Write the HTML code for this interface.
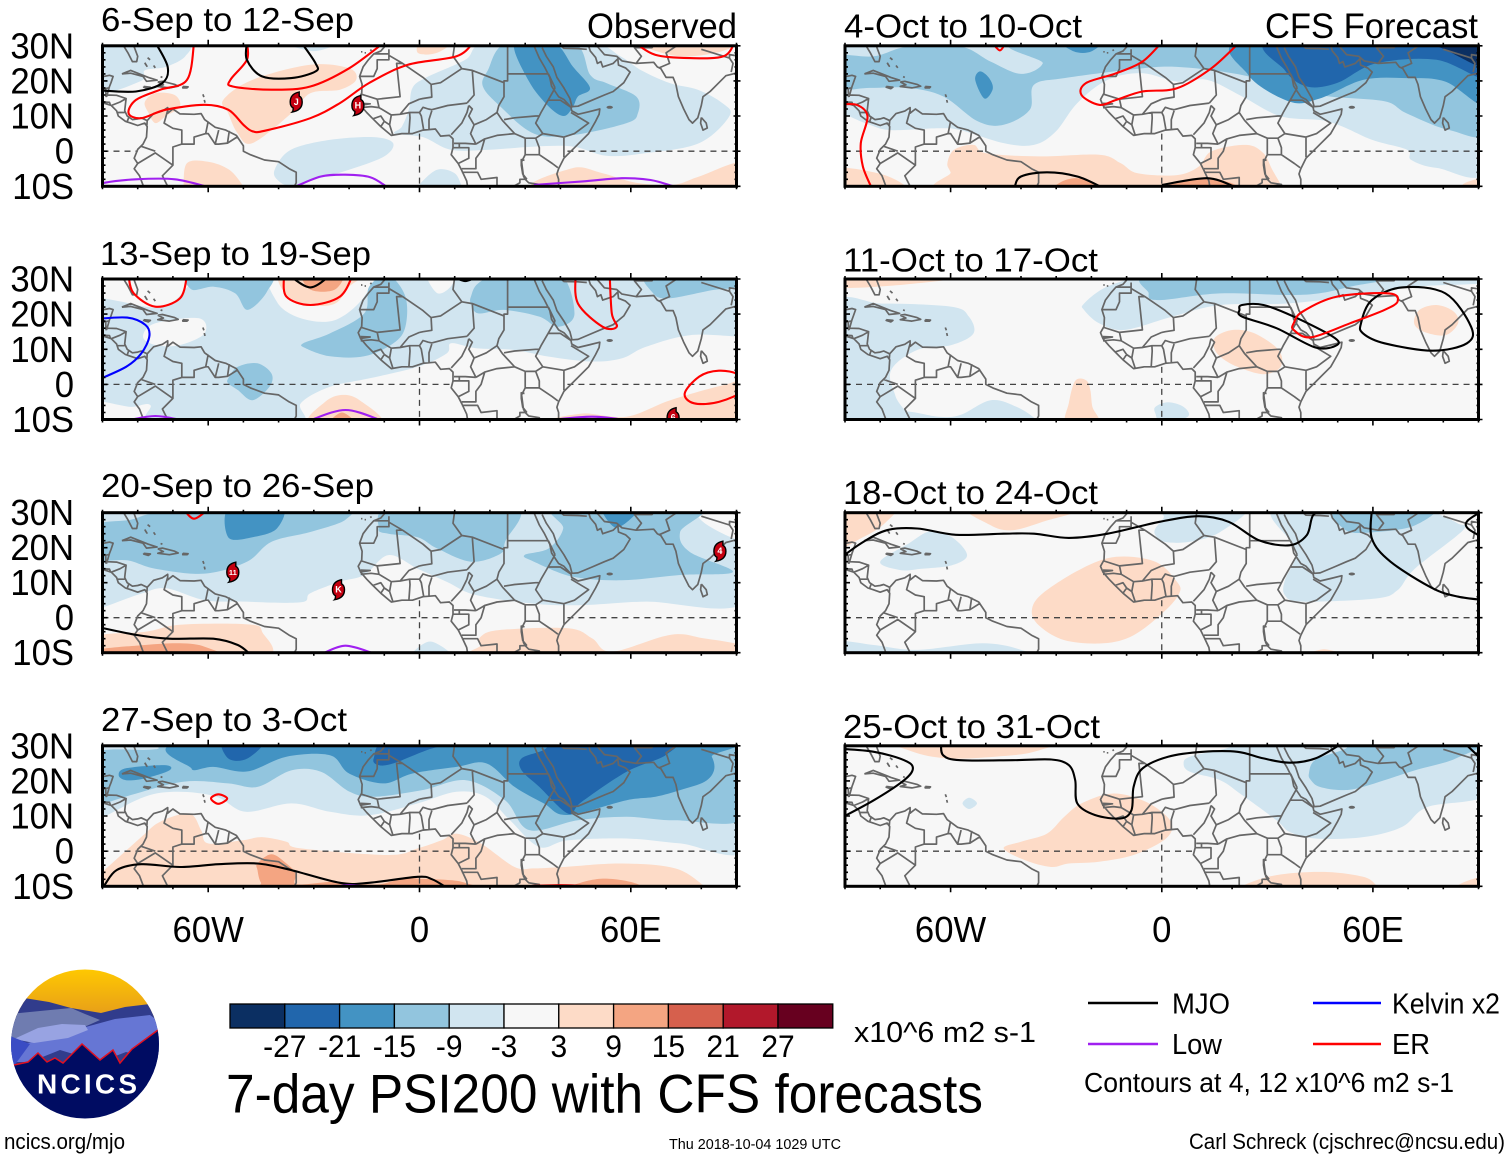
<!DOCTYPE html>
<html lang="en">
<head>
<meta charset="utf-8">
<title>7-day PSI200 with CFS forecasts</title>
<style>
html,body{margin:0;padding:0;background:#fff;}
svg{display:block;}
text{font-family:"Liberation Sans",sans-serif;fill:#000;}
</style>
</head>
<body>
<svg id="chart" xmlns="http://www.w3.org/2000/svg" width="1510" height="1159" viewBox="0 0 1510 1159">
  <rect x="0" y="0" width="1510" height="1159" fill="#fff"/>
  <g id="panels"></g>

  <g id="colorbar"></g>
  <text x="854" y="1042" font-size="28.5" textLength="182" lengthAdjust="spacingAndGlyphs">x10^6 m2 s-1</text>
  <text x="226" y="1112.5" font-size="54.5" textLength="757" lengthAdjust="spacingAndGlyphs">7-day PSI200 with CFS forecasts</text>

  <g>
    <line x1="1088" y1="1003" x2="1158" y2="1003" stroke="#000" stroke-width="2.4"/>
    <text x="1172" y="1013.5" font-size="28.5" textLength="58" lengthAdjust="spacingAndGlyphs">MJO</text>
    <line x1="1313" y1="1003" x2="1381" y2="1003" stroke="#0000ff" stroke-width="2.4"/>
    <text x="1392" y="1013.5" font-size="28.5" textLength="108" lengthAdjust="spacingAndGlyphs">Kelvin x2</text>
    <line x1="1088" y1="1044" x2="1158" y2="1044" stroke="#a020f0" stroke-width="2.4"/>
    <text x="1172" y="1054" font-size="28.5" textLength="50" lengthAdjust="spacingAndGlyphs">Low</text>
    <line x1="1313" y1="1044" x2="1381" y2="1044" stroke="#ff0000" stroke-width="2.4"/>
    <text x="1392" y="1054" font-size="28.5" textLength="38" lengthAdjust="spacingAndGlyphs">ER</text>
    <text x="1084" y="1092" font-size="27.5" textLength="370" lengthAdjust="spacingAndGlyphs">Contours at 4, 12 x10^6 m2 s-1</text>
  </g>

  <g>
    <defs>
      <clipPath id="logo-clip"><ellipse cx="85" cy="1044" rx="74" ry="74.5"/></clipPath>
      <linearGradient id="logo-sky" x1="0" y1="0" x2="0" y2="1"><stop offset="0" stop-color="#ffc900"/><stop offset="1" stop-color="#e59a1c"/></linearGradient>
    </defs>
    <g clip-path="url(#logo-clip)">
      <rect x="10" y="968" width="150" height="52" fill="url(#logo-sky)"/>
      <polygon fill="#313c8c" points="10,1002 24,998 49,1002 71,1008 101,1013 125,1007 150,1004 162,1008 162,1090 10,1090"/>
      <polygon fill="#6f7cb0" points="10,1014 40,1011 71,1008 85,1014 100,1020 82,1028 55,1030 10,1042"/>
      <polygon fill="#6676d4" points="82,1028 115,1019 150,1015 162,1024 162,1060 126,1052 100,1062 60,1050 30,1062 10,1062 10,1045 50,1040"/>
      <polygon fill="#98a3e2" points="14,1039 38,1028 62,1024 85,1025 88,1030 68,1038 34,1043"/>
      <polygon fill="#3a4cc4" points="10,1036 30,1044 14,1066 10,1066"/>
      <polygon fill="#000c62" stroke="#e01020" stroke-width="1.5" points="4,1065 14,1065 28,1062 38,1053 47,1062 55,1058 63,1063 82,1044 100,1060 113,1050 120,1063 132,1049 158,1030 170,1022 170,1125 4,1125"/>
    </g>
    <text x="37" y="1093.5" font-size="28" font-weight="bold" style="fill:#fff" textLength="100" lengthAdjust="spacing">NCICS</text>
  </g>

  <text x="4" y="1149" font-size="22.5" textLength="121" lengthAdjust="spacingAndGlyphs">ncics.org/mjo</text>
  <text x="669" y="1149" font-size="14.5" textLength="172" lengthAdjust="spacingAndGlyphs">Thu 2018-10-04 1029 UTC</text>
  <text x="1189" y="1149" font-size="22.5" textLength="316" lengthAdjust="spacingAndGlyphs">Carl Schreck (cjschrec@ncsu.edu)</text>
</svg>

<script>
/* ---------- colour scale ---------- */
const colorbarBreaks = [-27,-21,-15,-9,-3,3,9,15,21,27];
const colorbarColors = ['#0b2f62','#2166ac','#4393c3','#92c5de','#d1e5f0','#f7f7f7','#fddbc7','#f4a582','#d6604d','#b2182b','#67001f'];
const latTickLabels = ['30N','20N','10N','0','10S'];
const latTickValues = [30,20,10,0,-10];
const lonTickLabels = ['60W','0','60E'];
const lonTickValues = [-60,0,60];
const contourColors = {MJO:'#000000',Low:'#a020f0',Kelvin:'#0000ff',ER:'#ff0000'};

/* ---------- map geometry (lon, lat) ---------- */
const coastlines = [
 [[-90,21.2],[-88,21.6],[-87,21.3],[-87.6,19.5],[-88,18.4],[-88.7,16],[-86,15.9],[-83.3,15],[-83.7,11.5],[-83,10],[-81.5,9],[-80,9.2],[-79,9.5],[-77.3,8.7],[-75.5,10.7],[-73,11.4],[-71.5,12.4],[-71.5,10.8],[-70,12],[-68,10.6],[-64,10.5],[-62,10.7],[-61,9],[-58,6.8],[-55,6],[-52,4.5],[-50,1.5],[-50,0],[-48,-1],[-44,-2.5],[-40,-3],[-37,-5],[-35,-6],[-35,-9],[-36,-11]],
 [[-90,13.8],[-87.5,13],[-86,11.5],[-85.5,10],[-83.5,8.5],[-82,8],[-80,7.3],[-78,8],[-77.3,7],[-77.5,4],[-78.5,2],[-80,0.5],[-81,-2],[-80,-3.5],[-81,-5],[-79.5,-7],[-78,-11]],
 [[-84,30],[-82.8,28],[-81.5,25.5],[-80.3,25.5],[-80,27],[-81.3,30.5]],
 [[-84.5,22],[-82,23],[-77,21],[-74.5,20.2],[-77.5,19.9],[-78.5,21.3],[-82,22.2],[-84.5,22]],
 [[-74.3,19.7],[-73,19.9],[-69.5,19],[-68.5,18.5],[-71,18],[-74.3,18.4],[-72.7,18.9],[-74.3,19.7]],
 [[-78.3,18.4],[-76.4,18.2],[-77,17.8],[-78.3,18.2],[-78.3,18.4]],
 [[-67.2,18.4],[-65.7,18.3],[-66,18],[-67.2,18],[-67.2,18.4]],
 [[-78,25.2],[-77.4,24.2],[-77.8,24.8],[-78,25.2]],
 [[-75.5,24.4],[-75,23.7]],[[-76.5,26],[-77.2,26.6]],[[-73.5,21.2],[-73,21]],
 [[-61.5,16.2],[-61.2,15.4]],
 [[-61.1,14.6],[-60.9,13.8]],
 [[-16.6,28.3],[-16.2,28.3]],[[-15.6,28],[-15.2,28]],[[-14,28.6],[-13.6,28.9]],
 [[-9.8,30.5],[-9.7,30],[-11,28.5],[-13,27.7],[-14.5,26],[-16,24],[-17,21.3],[-16.3,19],[-16.4,16.5],[-17.4,14.7],[-16.7,13],[-15,11],[-13.5,9.5],[-11,7],[-8,4.5],[-5,5],[-2,5],[1,6],[4.5,6.3],[6,4.3],[8.5,4.5],[9.5,3.5],[9.5,1],[9,-1],[11,-3.5],[12,-5.5],[13.4,-8.5],[13.8,-11]],
 [[39.5,-11],[39.5,-8],[39,-6.5],[39.5,-5],[41,-2],[44,1],[48,5],[50,8.5],[51,10.5],[51.2,12],[48,11.2],[45,10.5],[43.2,11.5],[43,12.5],[41,14.7],[39.5,15.5],[37.5,18.5],[37,21],[35.5,24],[34,26.5],[32.6,29.8],[32.5,31]],
 [[34.8,29.5],[36,27],[38,24],[39,21],[41,18],[42.7,15],[43.3,12.7],[45,12.8],[49,14.5],[52.5,16],[55,17],[58,19.5],[59.8,22.5],[58.5,23.7],[56.5,24.5],[56.3,26.3],[55,25],[52,24],[51.5,25.5],[50.5,25],[50,26.7],[48.5,28.5],[48,30],[50.5,29.8],[52.5,27.5],[56,27],[57.5,25.7],[61.5,25],[66.5,25.3],[67.5,24],[68.5,23.5],[70,21],[72,21],[72.8,19],[73.5,15.5],[75,12],[76.5,9],[77.5,8],[79,9.5],[80,13],[80.5,15.5],[82.5,17],[85,19.5],[87,21.5],[89,22],[91,22.6]],
 [[80,9.6],[81.4,8],[81.7,6.6],[80.5,6],[79.8,8],[80,9.6]]
];
const borders = [
 [[-90,17.8],[-88.9,17.9],[-88.3,18]],[[-89.1,17.9],[-89,15.6],[-88.6,15.7]],[[-89.9,14],[-88,13.9],[-87.7,13]],[[-85.7,11],[-84,11],[-83.7,11]],[[-87.5,13],[-85,14],[-83.3,15]],[[-83,8.4],[-82.6,9.5]],[[-77.3,8.7],[-77.4,7.3]],
 [[-71.5,11.6],[-72.5,8],[-70,6.5],[-67.5,6],[-67.5,2],[-70,1.2],[-70,-4]],
 [[-67.5,2],[-64,2],[-64,4],[-60.7,5],[-60,8.5]],[[-60.7,5],[-60,5],[-58,2],[-57,2],[-54.5,2.3],[-51.5,4.2]],[[-57,6],[-58,2]],[[-54,5.8],[-54.5,2.3]],
 [[-80,-3.5],[-75,-0.5],[-70,-4],[-73,-7],[-71,-11]],[[-79,1.4],[-75,0]],
 [[-13,27.7],[-8.7,27.7],[-8.7,26],[-12,26],[-12,23.5],[-13,21.3],[-17,21.3]],
 [[-8.7,27.3],[-4.8,25],[-6.5,25],[-5.5,15.5],[-12,14.8],[-16.4,16.2]],
 [[-8.7,29],[-8.7,27.7]],
 [[-4.8,25],[1,21],[3.3,19],[6,19.5],[12,23.5],[15,23],[24,19.5],[24,20],[25,20],[25,31]],[[25,22],[36.6,22]],
 [[10,30.5],[9.5,27],[12,23.5]],
 [[15,23],[15.5,16],[13.5,13.7]],[[13.5,13.7],[8,13],[3.5,11.8],[2.5,12]],[[3.5,11.5],[2.7,9],[2.7,6.3]],[[3.3,19],[3.5,15.4],[1,15],[0,14.8]],
 [[-3,5],[-2.7,9.5],[-2.8,11],[0,11],[0.5,10],[1.2,6]],[[0,14.8],[-3,13.5],[-5.5,10.5],[-8,10.3],[-8.5,7.5],[-7.5,4.4]],[[-2.8,11],[-5.5,10.5]],
 [[0,11],[1,12.5],[2.5,12]],[[-12,14.8],[-11.5,12.4],[-8,10.3]],[[-11,7],[-10,8.5],[-8.5,7.5]],[[-13.3,9.2],[-11,10],[-10,8.5]],[[-16.7,12.4],[-13.7,12.7],[-11.5,12.4]],[[-16.7,13.6],[-14,13.5],[-16.7,13.1]],
 [[24,19.5],[24,15.5],[22.5,13],[22,11],[23.5,8.8]],[[22,11],[19,9],[15.5,7.5]],[[15.5,7.5],[14,10],[15,12],[14,13]],[[14,13],[13.5,11],[12,8],[9,4.7]],
 [[15.5,7.5],[14.5,5],[16,2]],[[9.8,2.2],[13,2.2],[16,2]],[[27,5],[22,4.5],[18.5,3.5],[17.5,0],[16,-2],[16,-5],[12,-5]],[[16,2],[18.5,3.5]],[[9.7,1],[11.3,1],[11.3,2.2]],[[11,-3.5],[14,-2],[14,1],[11.3,1]],
 [[24,9],[27,9.5],[33,10],[34,10]],[[23.5,8.8],[27,5],[30,3.7],[33,3.7],[35,5]],[[36.5,14.5],[34.5,11],[33,8],[35,5]],[[36.6,22],[38.5,18]],[[36.5,14.5],[38.5,18]],[[36.5,14.5],[40,14.5],[43,12.5]],
 [[35,5],[41,4],[41,-1.7]],[[41,4],[44,5],[48,8],[43,11]],[[33,3.7],[34,1],[34,-1],[37.7,-3.5],[39.3,-4.7]],[[30,3.7],[30,-1],[34,-1]],[[30,-1],[29,-3],[29.5,-7],[30,-8],[31,-9],[34,-9.5],[34.5,-11]],[[29.8,-2.6],[28.9,-2.4],[28.9,-4],[29.3,-6.5],[30.5,-8]],
 [[40,-10.6],[37,-11],[34.5,-11]],[[12,-6],[16.5,-6],[17.5,-8],[22,-7.5],[22,-11]],[[22,-11],[24,-11],[25,-11],[28.5,-9],[28.5,-8],[30.5,-8]],
 [[32.8,-9.5],[33.3,-11]],
 [[39,31],[41,29.3],[45,29.2],[47.5,29]],[[46,31],[48,30]],
 [[61.5,25],[63,27],[61,29.5],[61,31]],[[68,23.7],[71,25],[70,28],[73,30],[74,31]],[[61,29.5],[66,29.5],[67,31]],
 [[80,29],[88,26.5],[88,27.5],[91,27]],[[88,26.5],[89,25],[88.5,22.5]],[[88,30],[83,30],[80,31]]
];
const socotra = [[54,12.5]];

/* ---------- panel 6-Sep to 12-Sep ---------- */
const shading6Sep = [
 [-6,[[-92,31],[-67,31],[-66.5,27],[-72,24],[-78,23],[-79,20],[-92,17]]],
 [-6,[[-40,32],[-30,28.5],[-22,32]]],
 [-6,[[19.4,31],[13,26],[2,21],[-2,18],[-3,12],[-5,7],[-7,5],[1,4],[9,0.4],[20,0.4],[32.5,1.3],[43.6,1.3],[53,-1.3],[64,-0.6],[79.4,2.3],[88,10],[86,13.7],[79,17.5],[71,19.4],[63,23],[57,27],[48,31]]],
 [-6,[[-41,-5],[-36.5,0.4],[-25.5,3.2],[-13,4],[-7.5,2.3],[-10,-1.5],[-20,-5.3],[-29.5,-8],[-36.5,-10],[-40.5,-8]]],
 [-6,[[-1,-12],[0,-9.5],[5,-5.3],[10,-6.3],[12,-10],[13,-12]]],
 [-12,[[25,31],[19.4,23],[18,18.4],[23,12.7],[32.5,5],[43.6,4.6],[58.8,8],[62,10.8],[61.5,15.6],[53,19.4],[48.5,21.7],[43.6,31]]],
 [-18,[[27,31],[31,20],[36.7,12.7],[41,10],[43.6,12.7],[45,15.6],[48.4,18],[43.6,24],[38,31]]],
 [6,[[-78,14],[-75,16.5],[-69.5,16],[-68,12.7],[-72,10],[-75,8],[-77,11]]],
 [6,[[-55.7,14.6],[-47.4,20.3],[-31,24.6],[-20,23.6],[-18,20.3],[-22.6,17.5],[-31,16.5],[-36.4,10.8],[-47.4,2.3],[-51.6,5],[-54.3,10.8]]],
 [6,[[-0.5,28],[1,32],[10,32],[5,28]]],
 [6,[[-67,-12],[-67,-10],[-66,-3.4],[-60,-3],[-54,-5.3],[-50,-10],[-49,-12]]],
 [6,[[34,-11],[43.6,-4.8],[52,-6.3],[61.5,-9],[72,-9.6],[79.4,-7.2],[92,-3.2],[93,-12]]],
 [6,[[62,32],[63,30],[74,27],[86,28.5],[90,32]]]
];
const contours6Sep = [
 ['ER',[[-64,31],[-66,20.3],[-73.6,17.5],[-80.5,14.6],[-82.6,10.8],[-79,9.4],[-72,11.8],[-61,13.2],[-54.3,11.8],[-50,7.5],[-47.5,5.7],[-44,5.8],[-31,9.4],[-22.6,13.7],[-14.3,19.4],[-3.3,24.6],[10.5,27],[15.3,31]]],
 ['ER',[[-49,31],[-49,26],[-53.7,20.3],[-53,18.4],[-42,17.5],[-31,18.4],[-20,23.6],[-10,31]]],
 ['ER',[[61,31],[67,27.4],[76.7,26.5],[86.3,27],[89.5,31]]],
 ['MJO',[[-75,31],[-71.5,24],[-73,19.4],[-80.5,17],[-91,17.3]]],
 ['MJO',[[-33.6,31],[-29.5,25],[-29.5,22.7],[-36.4,20.8],[-44.7,21.3],[-49,26],[-49,31]]],
 ['Low',[[-92,-10.2],[-89.5,-9],[-80.5,-8],[-69.5,-8],[-60,-10.2]]],
 ['Low',[[-35,-10],[-28,-7.2],[-21,-6.7],[-14,-7.4],[-9.5,-10]]],
 ['Low',[[32.5,-9.6],[46.3,-8.6],[57.4,-7.7],[65.6,-8.2],[72,-10]]]
];
const storms6Sep = [[-35,14,'J'],[-17.5,13,'H']];

/* ---------- panel 13-Sep to 19-Sep ---------- */
const shading13Sep = [
 [-6,[[-93,32],[93,32],[93,13.6],[90.5,13.6],[76.7,14],[64.3,10.7],[57.4,7.4],[49,6.5],[36.7,7.9],[27,9.8],[16,10.3],[9,11.7],[7.7,8.8],[-0.5,5],[-14.3,1.7],[-25.4,-0.7],[-33.7,-5.4],[-35.3,-12],[-75,-12],[-76.4,-5.9],[-82,-6.4],[-89.5,-5],[-93,-4.5]]],
 [0,[[-93,32],[-93,26],[-84.4,23.5],[-73.6,21.9],[-67.4,26],[-66,32]]],
 [0,[[-41,32],[-40.5,23.5],[-33.7,18.8],[-24,18.3],[-15.7,25],[-15,32]]],
 [0,[[2,32],[5,26],[9,28],[9.5,32]]],
 [0,[[-78.5,13.6],[-75,17.4],[-62.6,18.8],[-61,14.5],[-68,11.2],[-75,11.2]]],
 [-12,[[-64.7,27],[-65,32],[-43,32],[-43.3,26.4],[-48.8,21.2],[-52.3,25.9],[-58.4,27.8]]],
 [-12,[[-33,11.7],[-25.4,14.5],[-15.7,20.2],[-14.3,27.8],[-8.8,31],[-4,25],[-4,16.4],[-7.4,11.7],[-15.7,8],[-25.4,8],[-32.3,10.3]]],
 [-12,[[14.6,25],[16.7,28.8],[24,32],[39.4,32],[44,20.2],[39.4,16.4],[34,19.3],[24,21.2],[16.7,20.2],[14.6,23]]],
 [-12,[[-54.3,1.7],[-51.6,5],[-46,6],[-42,3],[-42.6,-0.7],[-47.4,-4.5],[-51.6,-1.6],[-54.3,0.3]]],
 [-12,[[65.4,32],[66.3,26],[71,24.5],[83.6,26.9],[93,28],[93,32]]],
 [6,[[-38.5,32],[-37.8,25.5],[-31,22.6],[-24,23],[-20,27.8],[-16.4,32]]],
 [12,[[-33,32],[-31,27],[-24,27],[-22,32]]],
 [6,[[-31,-11],[-26.8,-5],[-22,-3],[-17,-4.5],[-11,-11]]],
 [12,[[-25.4,-11],[-22,-8],[-18.5,-11]]],
 [6,[[39.4,-11],[46.3,-8.3],[58.8,-9.2],[71.2,-4.5],[86.3,-0.2],[93,0.5],[93,-12]]]
];
const contours13Sep = [
 ['ER',[[-82.6,31],[-81.2,26],[-75,22.1],[-68,24.5],[-66,31]]],
 ['ER',[[-38.5,31],[-37.8,25],[-31,22.6],[-22.6,25],[-19,31]]],
 ['ER',[[44.3,31],[45,23],[52,16.4],[56,16.4],[54.6,20.2],[54,31]]],
 ['ER',[[75.3,-2.6],[79.4,2.2],[85,3.9],[90.5,2.7],[92,-1.6],[85,-5],[78,-5.4],[75.3,-2.6]]],
 ['MJO',[[-37,31],[-31,27.6],[-25.4,31]]],
 ['MJO',[[10.5,30.2],[13,29.4],[15.5,30.2]]],
 ['Kelvin',[[-92,18.6],[-83,19],[-77.8,16.9],[-76.7,13.6],[-79,8.8],[-83.3,5],[-92,1]]],
 ['Low',[[-82.6,-10.2],[-75,-9],[-67.4,-10.2]]],
 ['Low',[[-31,-10.2],[-21,-7.3],[-11,-10.2]]],
 ['Low',[[36.7,-10.2],[49,-9.2],[58.8,-10.2]]]
];
const storms13Sep = [[72,-9.5,'6']];

/* ---------- panel 20-Sep to 26-Sep ---------- */
const shading20Sep = [
 [-6,[[-93,32],[93,32],[93,4.6],[64.3,4.6],[46.3,3.6],[32.5,4],[16,6.5],[7.7,10.3],[-0.5,14],[-8.8,17.9],[-15.7,12.2],[-22.6,10.3],[-31,7],[-33.7,4.4],[-50,4.6],[-61,5],[-72,8.4],[-79,6.9],[-89.5,3.1],[-93,2.5]]],
 [0,[[79.4,32],[81,27],[93,22],[93,32]]],
 [0,[[-74,32],[-64,28.5],[-58,32]]],
 [-12,[[-93,26],[-82,28],[-75,29.8],[-58.5,29.8],[-22.6,31.5],[-21,28],[-31,24.5],[-42,21.7],[-49,16],[-61,12.6],[-75,14],[-83,16.4],[-93,17]]],
 [-12,[[-11.6,25.5],[-7.4,32],[27,32],[24.3,21.7],[23,18.3],[14.6,16],[5,19.8],[-0.5,23],[-8.8,24]]],
 [-12,[[29.8,17.9],[36.7,19.8],[40.8,25.5],[39.4,32],[79.4,32],[74,24.5],[76.7,18.8],[89,13.1],[74,12.2],[57.4,10.7],[43.6,11.7],[32.5,16]]],
 [-18,[[-54.3,23],[-53.7,32],[-39.2,32],[-40.5,25.5],[-47.4,23]]],
 [-18,[[51.9,32],[55.3,25.9],[60,28.3],[62,32]]],
 [6,[[-93,-5.5],[-77.8,-4],[-68,-2],[-48.8,-1.9],[-44.7,-4],[-45.4,-12],[-93,-12]]],
 [12,[[-93,-9.4],[-78,-7.8],[-68,-7.3],[-61,-8.3],[-57.8,-11.5],[-93,-12]]],
 [6,[[17.4,-5.4],[22.8,-3.5],[42.2,-3],[49,-5.9],[54.6,-9.7],[71.2,-4.9],[80.8,-5.9],[93,-8.3],[93,-12],[19,-12],[17.4,-7.8]]],
 [-6,[[-2,-11],[3,-6.8],[9,-11]]]
];
const contours20Sep = [
 ['ER',[[-67,31],[-64,28.3],[-60,31]]],
 ['MJO',[[-92,-2.5],[-80.5,-4.9],[-71,-6],[-58.5,-6],[-51.6,-7.8],[-48,-10.5]]],
 ['MJO',[[85,31],[90,29.7],[92,29]]],
 ['Low',[[-27.4,-10.2],[-21,-8],[-13,-10.2]]]
];
const storms20Sep = [[-53,13,'11'],[-23,8,'K'],[85.3,19,'4']];

/* ---------- panel 27-Sep to 3-Oct ---------- */
const shading27Sep = [
 [-6,[[-93,32],[93,32],[93,0.8],[74,2.2],[58.8,3.6],[42.2,3.1],[34,1.2],[25.7,8.8],[18.8,15.5],[10.5,16.9],[-0.5,13.6],[-14.3,10.2],[-25.4,11.2],[-36.4,13.6],[-49.3,11.2],[-57.6,15.5],[-68.6,16.9],[-78,15.5],[-89.5,9.8],[-93,8]]],
 [-12,[[-93,27.5],[-75,29],[-61,32],[93,32],[93,9.8],[72.6,8.8],[58.8,9.8],[45,8.8],[31.2,6],[24.3,14.5],[13.2,20.2],[0.8,17.4],[-13,15.5],[-20,17],[-28,22.6],[-36.4,23],[-46,18.3],[-54.3,19.3],[-66.8,19.8],[-80.5,16.4],[-89.5,13.6],[-93,13]]],
 [-18,[[-64.7,23.5],[-58.5,24],[-48.8,22.7],[-37.8,26.9],[-25.4,27.3],[-20,22.1],[-10.2,19.3],[-2,22.1],[10.5,24],[19,25],[27,18.3],[35.3,13.6],[42,10.3],[58.8,14.5],[67,15.5],[74,17.4],[81,19.8],[83.6,23],[83,26.9],[79.4,32],[-60,32]]],
 [-18,[[-85.4,21.6],[-83.3,23.6],[-72.3,24.5],[-71,23],[-78,20.7],[-83.3,20.2]]],
 [-24,[[-55.7,32],[-54.3,26.4],[-48.8,26.4],[-44,32]]],
 [-24,[[-13,26.4],[-8.8,32],[12,32],[2.2,28.8],[-7.4,25],[-11.6,24.5]]],
 [-24,[[29,26.4],[35.3,28.8],[41,32],[71.2,32],[70,27.4],[58.8,22.6],[46,14],[42.2,10.7],[34,18.3],[29,23]]],
 [6,[[-93,-8],[-89.5,-5.4],[-79,4],[-73.6,8.4],[-65.3,10.7],[-62,6],[-60,2.2],[-50.2,3.1],[-44.7,4],[-37.8,2.7],[-33.7,0.8],[-8.8,-1.1],[-0.5,0.8],[6.3,3.1],[10.5,5],[17.4,2.2],[27,-4.5],[32.5,-4.9],[40.8,-4.5],[57.4,-3.5],[72.6,-4.9],[80.8,-9.9],[83,-12],[-93,-12]]],
 [12,[[-46,-5.4],[-46,-3.5],[-42,-0.9],[-37.8,-3.5],[-35,-6.4],[-34.8,-9.4],[-24,-8.7],[-12,-9.5],[-4.7,-7.6],[-0.5,-7.8],[11.9,-8.7],[14,-12],[-42,-12],[-45,-9]]],
 [12,[[41,-12],[43.6,-9.7],[52,-7.8],[61.5,-9.2],[63,-12]]]
];
const contours27Sep = [
 ['ER',[[-59.2,15],[-57.1,16.2],[-54.6,15],[-57.1,13.5],[-59.2,15]]],
 ['MJO',[[-91,-11],[-89.5,-9.7],[-86,-5.4],[-79,-3.7],[-68,-4.5],[-57,-3.7],[-46,-3.5],[-36.4,-5.4],[-22.6,-9],[-14.3,-9],[-0.5,-7.3],[3.6,-8],[7.4,-10.2]]],
 ['Low',[[-22.5,-9.9],[-20,-9.7],[-17,-9.9]]],
 ['ER',[[32,-9.9],[40,-9.7],[46,-9.9]]]
];
const storms27Sep = [];

/* ---------- panel 4-Oct to 10-Oct ---------- */
const shading4Oct = [
 [-6,[[-93,32],[93,32],[93,-4.8],[78.3,-4.8],[70.9,-2.5],[69.7,0.4],[59.8,3.2],[47.5,8.4],[33.9,9.9],[22.8,15.6],[12.9,20.3],[4.3,19.8],[-5.5,22.2],[-15.4,20.3],[-24,13.7],[-30.1,5.6],[-36.3,1.8],[-44.9,2.3],[-57.2,6],[-63.4,6.5],[-76.9,6],[-83,7.5],[-89.8,10.4],[-93,12]]],
 [-12,[[-93,26.8],[-81.8,27],[-72,29.8],[-57.2,29.8],[-48.6,25.5],[-40,22],[-33.8,25],[-35,32],[93,32],[93,6],[81.8,6],[69.5,10.8],[63.3,14.2],[47.4,15.6],[35,18],[22.8,21.7],[4.3,24],[-9.2,23.2],[-27.7,20.8],[-36.3,18.9],[-37.5,11.8],[-44.9,7.5],[-52.3,8.5],[-62.1,15.6],[-72,18],[-83,18],[-93,18]]],
 [-18,[[-29,32],[-25,28.4],[-20,28.4],[-17,32]]],
 [-18,[[-51.7,22.7],[-53,20.3],[-50.4,15],[-48,17.8],[-49.2,21]]],
 [-18,[[24.6,32],[24.6,21.7],[36.3,14.1],[44.9,15],[57.2,20.3],[69.5,20.8],[80.6,19.8],[93,13],[93,32]]],
 [-24,[[32.6,32],[35,23],[41.2,18.4],[49.8,19.4],[60.9,25],[78.1,26],[93,20.5],[93,32]]],
 [-30,[[74.4,32],[80.6,28.9],[93,23.5],[93,32]]],
 [6,[[-57.5,-12],[-60,-6],[-60.9,-3.4],[-59,0.4],[-53.5,1.8],[-49.9,-0.6],[-35,-1.5],[-17.8,-1],[-11.7,-3.4],[-6.8,-6.3],[4.3,-6.8],[10.5,-4.4],[14.2,0],[24,1.8],[28.9,-0.6],[31.4,-5.3],[33.8,-9.6],[34,-12]]],
 [6,[[-93,-5],[-80.6,-6.3],[-73.2,-9.6],[-73,-12],[-93,-12]]],
 [6,[[85.5,-9.6],[93,-7.5],[93,-12]]],
 [12,[[-31,-12],[-29,-9],[-24,-7.7],[-17.8,-9.6],[-16,-12]]],
 [12,[[0,-12],[0.6,-9.6],[11.7,-7.7],[20.3,-9.3],[21,-12]]]
];
const contours4Oct = [
 ['ER',[[0,31],[-5.5,25.5],[-12.9,22.2],[-21.5,19.4],[-22.8,16],[-17.8,13.2],[-12.9,14.6],[-5.5,17],[4.3,17.9],[14.1,23.6],[22.1,31]]],
 ['ER',[[-48.2,31],[-46,28.7],[-44.3,31]]],
 ['ER',[[-92,13.2],[-86.7,13.2],[-83.6,9.9],[-85.5,2.3],[-84.9,-4.4],[-82.4,-10.5]]],
 ['MJO',[[-41.8,-10.2],[-40,-7.2],[-32.6,-6],[-24,-7.2],[-17.2,-10.2]]],
 ['MJO',[[0,-9.6],[12.9,-7.7],[20.9,-10.2]]]
];
const storms4Oct = [];

/* ---------- panel 11-Oct to 17-Oct ---------- */
const shading11Oct = [
 [6,[[-93,32],[-93,27.8],[-78,28],[-54.6,30.5],[-50,32]]],
 [-6,[[-93,22],[-79.4,23],[-59.7,22.1],[-54.8,19.3],[-53.5,14.5],[-59.7,11.2],[-69.5,9.8],[-76.9,4],[-75.6,-3.5],[-72,-12],[-93,-12]]],
 [-6,[[-74,-12],[-73.2,-7.8],[-63.4,-9.2],[-57.2,-8.7],[-48.6,-4.5],[-41.2,-6.4],[-35.7,-10],[-35,-12]]],
 [-6,[[-22.1,23],[-16.6,27.3],[-8,30.5],[-5,32],[93,32],[93,29],[71.9,27.8],[53.5,25],[35,23],[16.6,22.6],[3,19.3],[-10.5,15.5],[-17.8,17.4],[-22.1,21.2]]],
 [-6,[[-1.8,-6.4],[1.8,-5.1],[6.2,-6.4],[7.4,-9.2],[0,-11],[-1.8,-8.3]]],
 [-12,[[-3.7,25.9],[0,32],[68.3,32],[53.5,27.8],[40,25.5],[16.6,25.9],[-0.6,24]]],
 [6,[[14.8,10.7],[15.4,13.6],[20.3,15.5],[26.4,14.5],[33.2,9.8],[33.8,5],[28.9,2.9],[21.5,5],[16.6,7.9]]],
 [6,[[-27,-11],[-26.4,-5.4],[-24.6,1],[-21.5,1.2],[-20.3,-1.6],[-19.7,-6.4],[-18,-11]]],
 [6,[[71.7,17.4],[73.2,21.2],[78.1,22.6],[83,20.7],[84.2,17.4],[80.6,14],[74.4,15]]]
];
const contours11Oct = [
 ['MJO',[[22.1,21.2],[22.8,22.6],[28.9,22.6],[37.5,19.3],[48.6,13.6],[49.8,11.2],[43.7,10.5],[32.6,16],[22.8,19.3],[22.1,21.2]]],
 ['MJO',[[56.6,17.4],[59.7,24],[68.3,27.6],[80.6,25.9],[87.9,16.4],[86.7,11.7],[76.9,9.6],[63.3,11.7],[57.2,14.5],[56.6,17.4]]],
 ['ER',[[37.5,17.4],[40,20.7],[49.8,25],[64.6,25.9],[67,23.6],[63.3,21.2],[53.5,17.4],[42.4,13.4],[37.5,15.5],[37.5,17.4]]]
];
const storms11Oct = [];

/* ---------- panel 18-Oct to 24-Oct ---------- */
const shading18Oct = [
 [6,[[-93,32],[-76,32],[-78.8,26.9],[-84.9,23],[-93,20]]],
 [12,[[-93,32],[-88,32],[-93,28]]],
 [6,[[-54.5,32],[-48.6,26.4],[-42.4,25],[-33.8,27.4],[-21.5,32]]],
 [6,[[-36.9,2.2],[-33.8,7],[-22.8,14],[-12.9,17.4],[-1.8,16],[4.3,10.3],[5,7],[0.6,1.7],[-8,-5],[-16.6,-7.3],[-27.7,-6.4],[-35,-2.1]]],
 [6,[[41.2,-11],[46.1,-9],[52.3,-11]]],
 [-6,[[-80,16],[-71.9,21.2],[-65.8,24.7],[-59.6,23],[-55.3,17.9],[-59.6,15],[-68.2,14],[-74.3,13.6]]],
 [-6,[[-1.8,25.5],[0.6,28.8],[0,32],[24,32],[16.6,24.5],[8,21.7],[0.6,21.7],[-1.8,23.6]]],
 [-6,[[33.3,32],[36.3,22],[38.1,17.4],[35,10.7],[35,6.4],[40,4.6],[60.9,5.5],[67,7.9],[71.9,14],[85.6,25],[84,27],[76,31],[76,32]]],
 [-6,[[-93,-6.8],[-81.8,-7.8],[-69.5,-9.2],[-51,-7.3],[-40,-9.2],[-38,-12],[-93,-12]]],
 [-12,[[49.2,32],[52.3,25],[60.9,24.5],[72,26.4],[76.9,32]]]
];
const contours18Oct = [
 ['MJO',[[-92,16.5],[-85.5,21.2],[-78.1,25],[-69.5,25.5],[-58.5,23.7],[-45,24],[-36.3,24],[-26.4,22.8],[-15.4,24],[-0.6,27.4],[10.5,29],[19,27.4],[27.7,22.1],[36.3,20.7],[41.2,23.6],[43,29.3],[46.7,31]]],
 ['MJO',[[59.7,31],[59.7,22.6],[65,16],[77,8.4],[84.3,6],[92,5]]],
 ['MJO',[[92,31],[87,27.8],[87,25.5],[92,22.5]]]
];
const storms18Oct = [];

/* ---------- panel 25-Oct to 31-Oct ---------- */
const shading25Oct = [
 [6,[[-75,32],[-70.7,28.3],[-60.9,26.4],[-47.4,26.9],[-36.3,28.3],[-31,32]]],
 [6,[[-44.9,0.8],[-40,2.7],[-32.6,5],[-27.7,9.8],[-22.8,13.6],[-14.1,16.4],[-5.5,14.5],[0.6,10.7],[3,7],[0.6,3.1],[-8,-1.1],[-17.8,-3],[-26.4,-3.5],[-31.4,-4.5],[-38.8,-2.6]]],
 [6,[[22,-12],[23.4,-9.7],[32.6,-6.8],[46.1,-5.9],[57.2,-7.3],[60.9,-9.7],[62,-12]]],
 [6,[[84,-10],[93,-7],[93,-12]]],
 [-6,[[-56.6,13.6],[-54.7,15.2],[-52.5,13.6],[-54.7,12]]],
 [-6,[[6.2,25],[8,26.9],[16.6,28.8],[33.8,32],[93,32],[93,16.5],[75.6,12.6],[68.3,6.9],[57.2,4],[43.7,3.6],[36.3,5.5],[32.6,8.8],[22.8,16],[16.6,20.2],[8,22.6]]],
 [-12,[[41.8,22.1],[43.7,26],[52.3,29.2],[55,32],[91,32],[83.6,26.4],[71.9,23],[57.2,18.3],[51,17.4],[44.9,18.3],[42.4,20.2]]]
];
const contours25Oct = [
 ['MJO',[[-92,29.2],[-81.8,28.3],[-73.2,25.9],[-70.7,23.6],[-73.2,20.2],[-81.8,14.5],[-92,9]]],
 ['MJO',[[-62.7,31],[-62.1,27.3],[-57.2,25.9],[-42.4,25.9],[-31.4,26.1],[-26.4,24.5],[-24.6,20.2],[-24,13.6],[-19,10.3],[-11.7,9.3],[-8.6,11.7],[-8,18.3],[-5.5,23.5],[1.8,26.9],[11.7,28.3],[21.5,28.3],[28.9,26.4],[36.3,25.2],[43.7,26.4],[51.7,31]]],
 ['MJO',[[85.8,31],[92,25]]]
];
const storms25Oct = [];

/* ---------- panel list ---------- */
const panelTitles = ['6-Sep to 12-Sep','13-Sep to 19-Sep','20-Sep to 26-Sep','27-Sep to 3-Oct','4-Oct to 10-Oct','11-Oct to 17-Oct','18-Oct to 24-Oct','25-Oct to 31-Oct'];
const panelShading = [shading6Sep,shading13Sep,shading20Sep,shading27Sep,shading4Oct,shading11Oct,shading18Oct,shading25Oct];
const panelContours = [contours6Sep,contours13Sep,contours20Sep,contours27Sep,contours4Oct,contours11Oct,contours18Oct,contours25Oct];
const panelStorms = [storms6Sep,storms13Sep,storms20Sep,storms27Sep,storms4Oct,storms11Oct,storms18Oct,storms25Oct];

/* layout (not data) */
const rowLayout = [[45.8,186.3],[279,419.5],[512.7,652.7],[745.8,886.3]];
const colLayout = [[102.5,736.5],[845,1478.5]];
const titleLayout = [
 [101,31,253],[100,265,271],[101,497,273],[101,731,246],
 [844,37.5,238],[843,271.5,255],[843,504,255],[843,738,257]
];
const equatorWestEnd = [-80,9,9,9,-50,9,9,9];

const NS = 'http://www.w3.org/2000/svg';
function mk(tag, attrs, parent){
  const el = document.createElementNS(NS, tag);
  for(const k in attrs) el.setAttribute(k, attrs[k]);
  if(parent) parent.appendChild(el);
  return el;
}
function colorFor(v){
  let i = 0;
  while(i < colorbarBreaks.length && v >= colorbarBreaks[i]) i++;
  return colorbarColors[i];
}
function narrowText(t, factor){
  t.setAttribute('textLength', (t.getComputedTextLength()*factor).toFixed(1));
  t.setAttribute('lengthAdjust', 'spacingAndGlyphs');
}
function smoothPath(pts, closed){
  const n = pts.length;
  const at = i => closed ? pts[(i+n)%n] : pts[Math.max(0,Math.min(n-1,i))];
  let d = 'M'+pts[0][0].toFixed(1)+' '+pts[0][1].toFixed(1);
  const segs = closed ? n : n-1;
  for(let i=0;i<segs;i++){
    const p0=at(i-1),p1=at(i),p2=at(i+1),p3=at(i+2);
    const c1x=p1[0]+(p2[0]-p0[0])/6,c1y=p1[1]+(p2[1]-p0[1])/6;
    const c2x=p2[0]-(p3[0]-p1[0])/6,c2y=p2[1]-(p3[1]-p1[1])/6;
    d+='C'+c1x.toFixed(1)+' '+c1y.toFixed(1)+' '+c2x.toFixed(1)+' '+c2y.toFixed(1)+' '+p2[0].toFixed(1)+' '+p2[1].toFixed(1);
  }
  return d+(closed?'Z':'');
}
function drawPanel(root, idx){
  const col = idx < 4 ? 0 : 1, row = idx % 4;
  const [x0,x1] = colLayout[col], [y0,y1] = rowLayout[row];
  const xAxis = lon => x0 + (lon+90)/180*(x1-x0);
  const yAxis = lat => y0 + (30-lat)/40*(y1-y0);
  const toPx = p => [xAxis(p[0]), yAxis(p[1])];

  const g = mk('g', {}, root);
  
  

  const clipId = 'clip-'+idx;
  const clip = mk('clipPath', {id:clipId}, g);
  mk('rect', {x:x0,y:y0,width:x1-x0,height:y1-y0}, clip);

  const bg = mk('rect', {x:x0,y:y0,width:x1-x0,height:y1-y0,fill:'#f7f7f7'}, g);
  
  

  const inner = mk('g', {'clip-path':'url(#'+clipId+')'}, g);

  panelShading[idx].forEach(s => {
    const el = mk('path', {d:smoothPath(s[1].map(toPx), true), fill:colorFor(s[0])}, inner);
    
    
  });

  const west = equatorWestEnd[idx];
  const eqW = mk('line', {x1:xAxis(-90),y1:yAxis(0),x2:xAxis(west),y2:yAxis(0),stroke:'#444','stroke-width':1.3,'stroke-dasharray':'6 5'}, inner);
  
  
  const eqE = mk('line', {x1:xAxis(42),y1:yAxis(0),x2:xAxis(90),y2:yAxis(0),stroke:'#444','stroke-width':1.3,'stroke-dasharray':'6 5'}, inner);
  
  
  const mer = mk('line', {x1:xAxis(0),y1:yAxis(5),x2:xAxis(0),y2:yAxis(-10),stroke:'#444','stroke-width':1.3,'stroke-dasharray':'6 5'}, inner);
  
  

  const toD = line => 'M'+line.map(p => xAxis(p[0]).toFixed(1)+' '+yAxis(p[1]).toFixed(1)).join('L');
  const map = mk('path', {d:coastlines.concat(borders).map(toD).join(''),fill:'none',stroke:'#666','stroke-width':1.7,'stroke-linejoin':'round'}, inner);
  
  
  socotra.forEach(p => {
    const el = mk('ellipse', {cx:xAxis(p[0]),cy:yAxis(p[1]),rx:3.2,ry:1.5,fill:'#666'}, inner);
    
    
  });

  panelContours[idx].forEach(c => {
    const pts = c[1].map(toPx);
    const first = c[1][0], last = c[1][c[1].length-1];
    const closed = first[0]===last[0] && first[1]===last[1];
    const usePts = closed ? pts.slice(0,-1) : pts;
    const el = mk('path', {d:smoothPath(usePts, closed),fill:'none',stroke:contourColors[c[0]],'stroke-width':2.1}, inner);
    
    
  });

  panelStorms[idx].forEach(st => {
    const cx = xAxis(st[0]), cy = yAxis(st[1]);
    const sg = mk('g', {transform:'translate('+cx.toFixed(1)+' '+cy.toFixed(1)+')'}, inner);
    
    
    mk('path', {d:'M3 -10C-2 -9 -6 -6 -6 0C-6 3 -5 5 -3 6C-3 8 -3 9 -4 10C2 9 6 6 6 0C6 -3 5 -5 3 -6C3 -8 3 -9 3 -10Z',fill:'#c40010',stroke:'#000','stroke-width':1.4}, sg);
    const t = mk('text', {x:0,y:3,'font-size':st[2].length>1?7.5:9,'font-weight':'bold','text-anchor':'middle',style:'fill:#fff'}, sg);
    t.textContent = st[2];
  });

  const frame = mk('rect', {x:x0,y:y0,width:x1-x0,height:y1-y0,fill:'none',stroke:'#000','stroke-width':3}, g);
  
  

  let tickD = '';
  for(let lon=-90;lon<=90;lon+=10){
    const major = lon%60===0;
    const len = major ? 6 : 3;
    const x = xAxis(lon);
    tickD += 'M'+x.toFixed(1)+' '+(y0-len)+'V'+(y0+1)+'M'+x.toFixed(1)+' '+(y1-1)+'V'+(y1+len);
  }
  for(let lat=-10;lat<=30;lat+=2){
    const major = lat%10===0;
    const y = yAxis(lat);
    tickD += 'M'+(x0-1)+' '+y.toFixed(1)+'H'+(x0+(major?5:3))+'M'+(x1-(major?3:2))+' '+y.toFixed(1)+'H'+(x1+(major?4:1));
  }
  const ticks = mk('path', {d:tickD,stroke:'#000','stroke-width':1.6,fill:'none'}, g);
  
  

  const tl = titleLayout[idx];
  const title = mk('text', {x:tl[0],y:tl[1],'font-size':33.5,textLength:tl[2],lengthAdjust:'spacingAndGlyphs'}, g);
  
  
  title.textContent = panelTitles[idx];

  if(col===0){
    latTickLabels.forEach((lab,i) => {
      const y = yAxis(latTickValues[i]) + 12.5;
      const t = mk('text', {x:74,y:y,'font-size':36.5,'text-anchor':'end'}, g);
      
      
      t.textContent = lab;
      narrowText(t, 0.95);
    });
  }
  if(row===3){
    lonTickLabels.forEach((lab,i) => {
      const t = mk('text', {x:xAxis(lonTickValues[i]),y:942,'font-size':36.5,'text-anchor':'middle'}, g);
      
      
      t.textContent = lab;
      narrowText(t, 0.95);
    });
  }
}

const panelsRoot = document.getElementById('panels');
panelTitles.forEach((_,i) => drawPanel(panelsRoot, i));

const obsLabel = mk('text', {x:587,y:38,'font-size':35,textLength:150,lengthAdjust:'spacingAndGlyphs'}, panelsRoot);


obsLabel.textContent = 'Observed';
const cfsLabel = mk('text', {x:1265,y:38,'font-size':35,textLength:213,lengthAdjust:'spacingAndGlyphs'}, panelsRoot);


cfsLabel.textContent = 'CFS Forecast';

/* colour bar */
(function(){
  const root = document.getElementById('colorbar');
  const bx0 = 230, bw = 54.8, by = 1004, bh = 24;
  colorbarColors.forEach((c,i) => {
    const r = mk('rect', {x:bx0+i*bw,y:by,width:bw,height:bh,fill:c,stroke:'#000','stroke-width':1.3}, root);
    
    
  });
  colorbarBreaks.forEach((v,i) => {
    const t = mk('text', {x:bx0+(i+1)*bw,y:1057,'font-size':31.5,'text-anchor':'middle'}, root);
    
    
    t.textContent = v;
    narrowText(t, 0.95);
  });
})();
</script>
</body>
</html>
